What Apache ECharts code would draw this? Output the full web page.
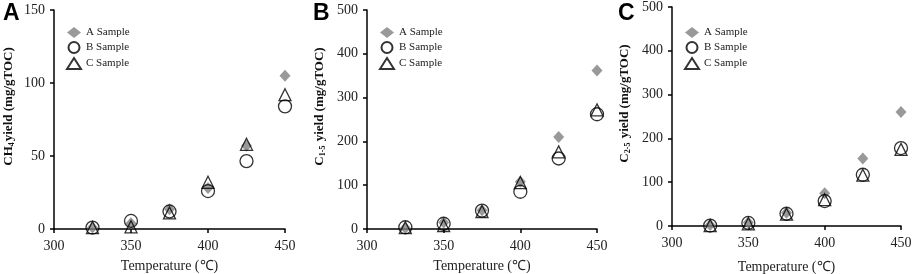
<!DOCTYPE html>
<html>
<head>
<meta charset="utf-8">
<script src="https://cdn.jsdelivr.net/npm/echarts@6/dist/echarts.min.js"></script>
<style>
  html, body { margin: 0; padding: 0; background: #fff; }
  #chart { width: 913px; height: 274px; }
</style>
</head>
<body>
<div id="chart"></div>
<script>
// temperatures (°C)
const temps = [325, 350, 375, 400, 425, 450];

// CH4 yield (mg/gTOC)
const ch4A = [1, 4, 13.5, 28, 57, 105];
const ch4B = [1, 5.5, 12, 26, 46.5, 84];
const ch4C = [1, 1.5, 11, 32, 58, 92];

// C1-5 yield (mg/gTOC)
const c15A = [2, 15, 43, 108, 210, 362];
const c15B = [4, 12, 42, 85, 161, 262];
const c15C = [3, 8, 40, 106, 176, 272];

// C2-5 yield (mg/gTOC)
const c25A = [2, 8, 30, 75, 154, 260];
const c25B = [1, 7, 28, 57, 117, 178];
const c25C = [1, 5, 27, 60, 116, 175];

const sampleNames = ["A Sample", "B Sample", "C Sample"];

const serif = "Liberation Serif";

const panels = [
    { letter: "A", left: 54, top: 10, width: 231, height: 219, max: 150, step: 50, xGap: 30,
      yName: "{n|CH}{s|4}{n|yield (mg/gTOC)}", gap: 38, data: [ch4A, ch4B, ch4C], letterX: -2 },
    { letter: "B", left: 367, top: 10, width: 230, height: 219, max: 500, step: 100, xGap: 30,
      yName: "{n|C}{s|1-5}{n| yield (mg/gTOC)}", gap: 40, data: [c15A, c15B, c15C], letterX: 308 },
    { letter: "C", left: 672, top: 7, width: 229, height: 219, max: 500, step: 100, xGap: 34,
      yName: "{n|C}{s|2-5}{n| yield (mg/gTOC)}", gap: 40, data: [c25A, c25B, c25C], letterX: 613 }
];

const pairs = arr => temps.map((t, i) => [t, arr[i]]);

const markStyles = [
    { symbol: "diamond", symbolSize: [11, 12], itemStyle: { color: "#7f7f7f" } },
    { symbol: "circle", symbolSize: 13,
      itemStyle: { color: "rgba(0,0,0,0)", borderColor: "#000", borderWidth: 1.3 } },
    { symbol: "triangle", symbolSize: 12,
      itemStyle: { color: "rgba(0,0,0,0)", borderColor: "#000", borderWidth: 1.3 } }
];

const axisLine = { show: true, lineStyle: { color: "#000", width: 1.5 } };
const axisTick = { show: true, inside: false, length: 4, lineStyle: { color: "#000", width: 1.5 } };
const labelStyle = { fontFamily: serif, fontSize: 14, color: "#222" };

const option = {
    animation: false,
    backgroundColor: "#fff",
    title: panels.map(p => ({
        text: p.letter, left: p.letterX, top: -3,
        textStyle: { fontFamily: "Liberation Sans", fontWeight: "bold", fontSize: 23, color: "#000" }
    })),
    legend: panels.map(p => ({
        data: sampleNames,
        orient: "vertical",
        left: p.left + 7,
        top: 22,
        itemGap: 3,
        itemWidth: 14,
        itemHeight: 11,
        selectedMode: false,
        textStyle: { fontFamily: serif, fontSize: 11, color: "#222" }
    })),
    grid: panels.map(p => ({
        left: p.left, top: p.top, width: p.width, height: p.height,
        containLabel: false, outerBoundsMode: "none"
    })),
    xAxis: panels.map((p, i) => ({
        gridIndex: i, type: "value", min: 300, max: 450, interval: 50,
        name: "Temperature (℃)", nameLocation: "middle", nameGap: p.xGap,
        nameTextStyle: { fontFamily: serif, fontSize: 14, color: "#222" },
        axisLine, axisTick, splitLine: { show: false },
        axisLabel: Object.assign({ margin: 10 }, labelStyle)
    })),
    yAxis: panels.map((p, i) => ({
        gridIndex: i, type: "value", min: 0, max: p.max, interval: p.step,
        name: p.yName, nameLocation: "middle", nameGap: p.gap, nameRotate: 90,
        nameTextStyle: {
            padding: [0, 0, 0, 26],
            rich: {
                n: { fontFamily: serif, fontSize: 13, fontWeight: "bold", color: "#111" },
                s: { fontFamily: serif, fontSize: 8, fontWeight: "bold", color: "#111",
                     verticalAlign: "bottom", padding: [6, 1, 0, 0] }
            }
        },
        axisLine, axisTick, splitLine: { show: false },
        axisLabel: Object.assign({ margin: 9 }, labelStyle)
    })),
    series: []
};

panels.forEach((p, gi) => {
    p.data.forEach((arr, si) => {
        option.series.push(Object.assign({
            name: sampleNames[si],
            type: "scatter",
            xAxisIndex: gi,
            yAxisIndex: gi,
            data: pairs(arr),
            z: 2 + si
        }, markStyles[si]));
    });
});

const chart = echarts.init(document.getElementById("chart"), null, { renderer: "canvas" });
chart.setOption(option);
window.addEventListener("resize", () => chart.resize());
</script>
</body>
</html>
